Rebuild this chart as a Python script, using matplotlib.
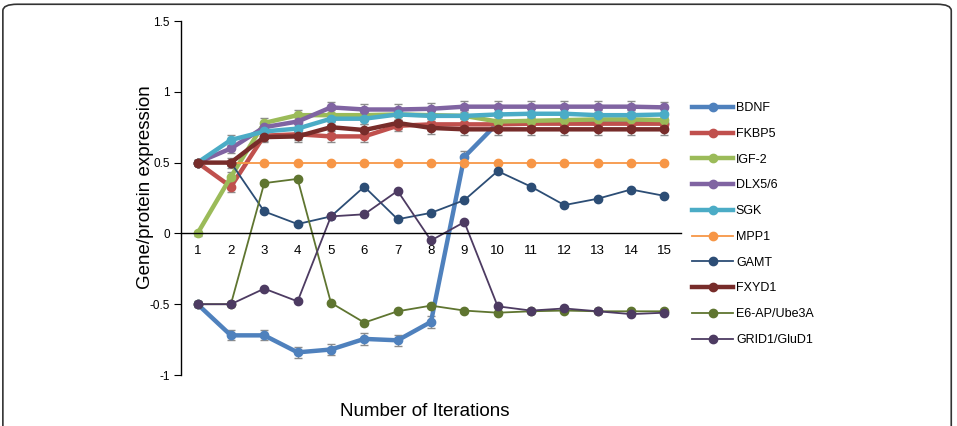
import matplotlib
matplotlib.use("Agg")
import matplotlib.pyplot as plt
from matplotlib.patches import FancyBboxPatch

plt.rcParams['font.family'] = ['Liberation Sans', 'DejaVu Sans']

iterations = list(range(1, 16))
genes = ['BDNF', 'FKBP5', 'IGF-2', 'DLX5/6', 'SGK', 'MPP1', 'GAMT', 'FXYD1',
         'E6-AP/Ube3A', 'GRID1/GluD1']

bdnf = [-0.5, -0.72, -0.72, -0.84, -0.82, -0.745, -0.755, -0.625, 0.54, 0.78,
        0.78, 0.78, 0.78, 0.78, 0.78]
fkbp5 = [0.5, 0.33, 0.69, 0.70, 0.685, 0.685, 0.76, 0.77, 0.77, 0.77,
         0.775, 0.775, 0.775, 0.775, 0.775]
igf2 = [0.0, 0.40, 0.78, 0.835, 0.835, 0.835, 0.84, 0.835, 0.83, 0.79,
        0.795, 0.80, 0.805, 0.805, 0.80]
dlx56 = [0.5, 0.60, 0.75, 0.79, 0.89, 0.875, 0.875, 0.88, 0.895, 0.895,
         0.895, 0.895, 0.895, 0.895, 0.89]
sgk = [0.5, 0.66, 0.72, 0.74, 0.81, 0.81, 0.84, 0.83, 0.83, 0.84,
       0.845, 0.845, 0.835, 0.835, 0.84]
mpp1 = [0.5, 0.5, 0.5, 0.5, 0.5, 0.5, 0.5, 0.5, 0.5, 0.5,
        0.5, 0.5, 0.5, 0.5, 0.5]
gamt = [0.5, 0.5, 0.155, 0.066, 0.12, 0.33, 0.10, 0.145, 0.235, 0.44,
        0.33, 0.20, 0.245, 0.31, 0.265]
fxyd1 = [0.5, 0.5, 0.68, 0.685, 0.75, 0.73, 0.78, 0.745, 0.735, 0.735,
         0.735, 0.735, 0.735, 0.735, 0.735]
e6ap = [-0.5, -0.5, 0.355, 0.385, -0.49, -0.63, -0.55, -0.51, -0.545, -0.56,
        -0.55, -0.545, -0.55, -0.55, -0.55]
grid1 = [-0.5, -0.5, -0.39, -0.48, 0.12, 0.135, 0.30, -0.05, 0.08, -0.515,
         -0.545, -0.53, -0.55, -0.57, -0.56]

err = [0.02, 0.035, 0.035, 0.04, 0.04, 0.04, 0.04, 0.04, 0.04, 0.04,
       0.04, 0.04, 0.04, 0.04, 0.04]

series = [bdnf, fkbp5, igf2, dlx56, sgk, mpp1, gamt, fxyd1, e6ap, grid1]
colors = ['#4F81BD', '#C0504D', '#9BBB59', '#8064A2', '#4BACC6', '#F79646',
          '#2C4D75', '#772C2A', '#5F7530', '#4D3B62']
thick = [True, True, True, True, True, False, False, True, False, False]
with_err = [True, True, True, True, True, False, False, True, False, False]

fig = plt.figure(figsize=(9.57, 4.26), dpi=100)
ax = fig.add_axes([0.189, 0.1197, 0.5227, 0.831])

for vals, name, c, t, e in zip(series, genes, colors, thick, with_err):
    lw = 3.2 if t else 1.3
    if e:
        ax.errorbar(iterations, vals, yerr=err, fmt='none', ecolor='#8c8c8c',
                    elinewidth=1.0, capsize=3, capthick=1.0, zorder=1)
    ax.plot(iterations, vals, color=c, linewidth=lw, marker='o',
            markersize=6, label=name, zorder=2)

ax.set_xlim(0.5, 15.5)
ax.set_ylim(-1, 1.5)
ax.set_yticks([-1, -0.5, 0, 0.5, 1, 1.5])
ax.set_yticklabels(['-1', '-0.5', '0', '0.5', '1', '1.5'])
ax.spines['top'].set_visible(False)
ax.spines['right'].set_visible(False)
ax.spines['bottom'].set_position(('data', 0))
ax.spines['bottom'].set_linewidth(1.0)
ax.spines['left'].set_linewidth(1.0)
ax.tick_params(axis='y', direction='out', length=5, labelsize=8.5, pad=3)
ax.set_xticks(iterations)
ax.tick_params(axis='x', length=0, labelsize=9.5, pad=8)

fig.text(0.152, 0.56, 'Gene/protein expression', rotation=90,
         fontsize=13.5, ha='center', va='center')
fig.text(0.444, 0.035, 'Number of Iterations', fontsize=13.5,
         ha='center', va='center')

leg = ax.legend(loc='upper left', bbox_to_anchor=(0.718, 0.772),
                bbox_transform=fig.transFigure, frameon=False, fontsize=9,
                handlelength=3.3, handletextpad=0.2, labelspacing=1.1,
                borderaxespad=0)

box = FancyBboxPatch((0.003, -0.05), 0.991, 1.04, transform=fig.transFigure,
                     boxstyle='round,pad=0,rounding_size=0.015',
                     facecolor='none', edgecolor='#333333', linewidth=1.2)
fig.patches.append(box)

fig.savefig('out.png', dpi=100)
